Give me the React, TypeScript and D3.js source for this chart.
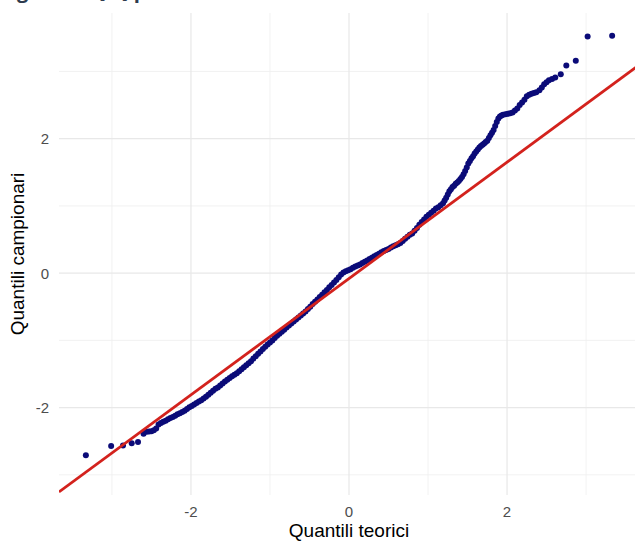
import React, { useEffect, useRef } from 'react'
import * as d3 from 'd3'

// Theoretical quantiles (x) and sample quantiles (y)
const theoretical = [
  -3.33, -3.01, -2.86, -2.75, -2.67, -2.6, -2.56, -2.53, -2.5, -2.47,
  -2.44, -2.41, -2.38, -2.35, -2.32, -2.29, -2.26, -2.23, -2.2, -2.17,
  -2.14, -2.11, -2.08, -2.05, -2.02, -1.99, -1.96, -1.93, -1.9, -1.87,
  -1.84, -1.81, -1.78, -1.75, -1.72, -1.69, -1.66, -1.63, -1.6, -1.57,
  -1.54, -1.51, -1.48, -1.45, -1.42, -1.39, -1.36, -1.33, -1.3, -1.27,
  -1.24, -1.21, -1.18, -1.15, -1.12, -1.09, -1.06, -1.03, -1.0, -0.97,
  -0.94, -0.91, -0.88, -0.85, -0.82, -0.79, -0.76, -0.73, -0.7, -0.67,
  -0.64, -0.61, -0.58, -0.55, -0.52, -0.49, -0.46, -0.43, -0.4, -0.37,
  -0.34, -0.31, -0.28, -0.25, -0.22, -0.19, -0.16, -0.13, -0.1, -0.07,
  -0.04, -0.01, 0.02, 0.05, 0.08, 0.11, 0.14, 0.17, 0.2, 0.23,
  0.26, 0.29, 0.32, 0.35, 0.38, 0.41, 0.44, 0.47, 0.5, 0.53,
  0.56, 0.59, 0.62, 0.65, 0.68, 0.71, 0.74, 0.77, 0.8, 0.83,
  0.86, 0.89, 0.92, 0.95, 0.98, 1.01, 1.04, 1.07, 1.1, 1.13,
  1.16, 1.19, 1.21, 1.23, 1.25, 1.27, 1.29, 1.31, 1.33, 1.35,
  1.37, 1.39, 1.41, 1.43, 1.45, 1.47, 1.49, 1.51, 1.53, 1.55,
  1.57, 1.59, 1.61, 1.63, 1.65, 1.67, 1.69, 1.71, 1.73, 1.75,
  1.77, 1.79, 1.81, 1.83, 1.85, 1.87, 1.89, 1.91, 1.93, 1.95,
  1.98, 2.01, 2.04, 2.07, 2.1, 2.13, 2.16, 2.19, 2.22, 2.25,
  2.28, 2.31, 2.34, 2.37, 2.41, 2.44, 2.47, 2.5, 2.53, 2.57,
  2.61, 2.68, 2.75, 2.87, 3.02, 3.33
]

const sample = [
  -2.71, -2.57, -2.565, -2.53, -2.51, -2.39, -2.36, -2.355, -2.35, -2.335,
  -2.31, -2.25, -2.23, -2.21, -2.195, -2.175, -2.155, -2.14, -2.12, -2.1,
  -2.085, -2.065, -2.045, -2.02, -1.995, -1.975, -1.955, -1.93, -1.91, -1.89,
  -1.865, -1.84, -1.81, -1.78, -1.75, -1.72, -1.7, -1.67, -1.64, -1.61,
  -1.585, -1.56, -1.535, -1.51, -1.49, -1.46, -1.43, -1.4, -1.37, -1.34,
  -1.31, -1.27, -1.235, -1.2, -1.165, -1.13, -1.095, -1.06, -1.03, -1.0,
  -0.965, -0.93, -0.9, -0.87, -0.84, -0.81, -0.78, -0.75, -0.72, -0.69,
  -0.66, -0.63, -0.6, -0.57, -0.535, -0.5, -0.46, -0.425, -0.39, -0.355,
  -0.32, -0.285, -0.25, -0.21, -0.175, -0.14, -0.1, -0.06, -0.02, 0.01,
  0.03, 0.045, 0.06, 0.08, 0.1, 0.115, 0.13, 0.15, 0.17, 0.19,
  0.21, 0.23, 0.25, 0.27, 0.29, 0.31, 0.33, 0.345, 0.36, 0.38,
  0.4, 0.415, 0.43, 0.45, 0.48, 0.51, 0.54, 0.57, 0.59, 0.63,
  0.67, 0.72, 0.76, 0.8, 0.84, 0.87, 0.9, 0.93, 0.96, 0.98,
  1.01, 1.04, 1.08, 1.12, 1.17, 1.22, 1.25, 1.28, 1.3, 1.33,
  1.35, 1.37, 1.4, 1.43, 1.47, 1.52, 1.57, 1.63, 1.67, 1.71,
  1.74, 1.78, 1.81, 1.84, 1.87, 1.89, 1.91, 1.93, 1.95, 1.97,
  2.01, 2.05, 2.09, 2.13, 2.19, 2.25, 2.3, 2.33, 2.345, 2.355,
  2.365, 2.37, 2.38, 2.39, 2.42, 2.45, 2.5, 2.54, 2.58, 2.63,
  2.655, 2.67, 2.68, 2.69, 2.72, 2.76, 2.81, 2.84, 2.87, 2.89,
  2.91, 2.96, 3.09, 3.16, 3.52, 3.53
]

// Reference line (intercept, slope)
const qqLine = { intercept: -0.08, slope: 0.865 }

const majorTicks = [-2, 0, 2]
const minorTicks = [-3, -1, 1, 3]

const xDomain: [number, number] = [-3.67, 3.67]
const yDomain: [number, number] = [-3.3, 3.87]

const xTitle = 'Quantili teorici'
const yTitle = 'Quantili campionari'
const caption = 'Figura 2: Q-Q plot'

export default function App() {
  const svgRef = useRef<SVGSVGElement>(null)
  const width = 635
  const height = 543

  useEffect(() => {
    if (!svgRef.current) return
    const svg = d3.select(svgRef.current)
    svg.selectAll('*').remove()

    const panel = { left: 59, right: 639, top: 13, bottom: 495 }

    const x = d3.scaleLinear().domain(xDomain).range([panel.left, panel.right])
    const y = d3.scaleLinear().domain(yDomain).range([panel.bottom, panel.top])

    svg.append('rect')
      .attr('width', width)
      .attr('height', height)
      .attr('fill', '#ffffff')

    // caption of the page, cropped at the top edge as in the screenshot
    svg.append('text')
      .attr('x', 0)
      .attr('y', -2)
      .attr('fill', '#2e3b4e')
      .style('font-family', '"Open Sans", "Liberation Sans", sans-serif')
      .style('font-weight', 700)
      .style('font-size', '20px')
      .text(caption)

    // grid
    const grid = svg.append('g')
    const addGrid = (ticks: number[], vertical: boolean, color: string, w: number) => {
      grid.append('g')
        .selectAll('line')
        .data(ticks)
        .enter()
        .append('line')
        .attr('x1', d => vertical ? x(d) : panel.left)
        .attr('x2', d => vertical ? x(d) : panel.right)
        .attr('y1', d => vertical ? panel.top : y(d))
        .attr('y2', d => vertical ? panel.bottom : y(d))
        .attr('stroke', color)
        .attr('stroke-width', w)
    }
    addGrid(minorTicks, true, '#efefef', 0.8)
    addGrid(minorTicks, false, '#efefef', 0.8)
    addGrid(majorTicks, true, '#e8e8e8', 1.2)
    addGrid(majorTicks, false, '#e8e8e8', 1.2)

    // tick labels
    const font = '"Liberation Sans", Arial, sans-serif'
    svg.append('g')
      .selectAll('text')
      .data(majorTicks)
      .enter()
      .append('text')
      .attr('x', d => x(d))
      .attr('y', 517)
      .attr('text-anchor', 'middle')
      .attr('fill', '#4d4d4d')
      .style('font-family', font)
      .style('font-size', '15px')
      .text(d => String(d))

    svg.append('g')
      .selectAll('text')
      .data(majorTicks)
      .enter()
      .append('text')
      .attr('x', 49)
      .attr('y', d => y(d))
      .attr('dy', '0.36em')
      .attr('text-anchor', 'end')
      .attr('fill', '#4d4d4d')
      .style('font-family', font)
      .style('font-size', '15px')
      .text(d => String(d))

    // axis titles
    svg.append('text')
      .attr('x', (panel.left + panel.right) / 2)
      .attr('y', 537)
      .attr('text-anchor', 'middle')
      .attr('fill', '#000000')
      .style('font-family', font)
      .style('font-size', '19px')
      .text(xTitle)

    svg.append('text')
      .attr('transform', `translate(24,${(panel.top + panel.bottom) / 2}) rotate(-90)`)
      .attr('text-anchor', 'middle')
      .attr('fill', '#000000')
      .style('font-family', font)
      .style('font-size', '19px')
      .text(yTitle)

    // clip for panel
    svg.append('clipPath')
      .attr('id', 'panel-clip')
      .append('rect')
      .attr('x', panel.left)
      .attr('y', panel.top)
      .attr('width', panel.right - panel.left)
      .attr('height', panel.bottom - panel.top)

    const points = theoretical.map((t, i) => ({ t, s: sample[i] }))

    svg.append('g')
      .selectAll('circle')
      .data(points)
      .enter()
      .append('circle')
      .attr('cx', d => x(d.t))
      .attr('cy', d => y(d.s))
      .attr('r', 3)
      .attr('fill', '#0b0b78')

    const line = d3.line<number>()
      .x(d => x(d))
      .y(d => y(qqLine.intercept + qqLine.slope * d))

    svg.append('path')
      .datum(xDomain)
      .attr('clip-path', 'url(#panel-clip)')
      .attr('fill', 'none')
      .attr('stroke', '#d3221d')
      .attr('stroke-width', 2.8)
      .attr('d', line)
  }, [])

  return (
    <svg
      ref={svgRef}
      width={width}
      height={height}
      style={{ position: 'absolute', left: 0, top: 0, display: 'block' }}
    />
  )
}
